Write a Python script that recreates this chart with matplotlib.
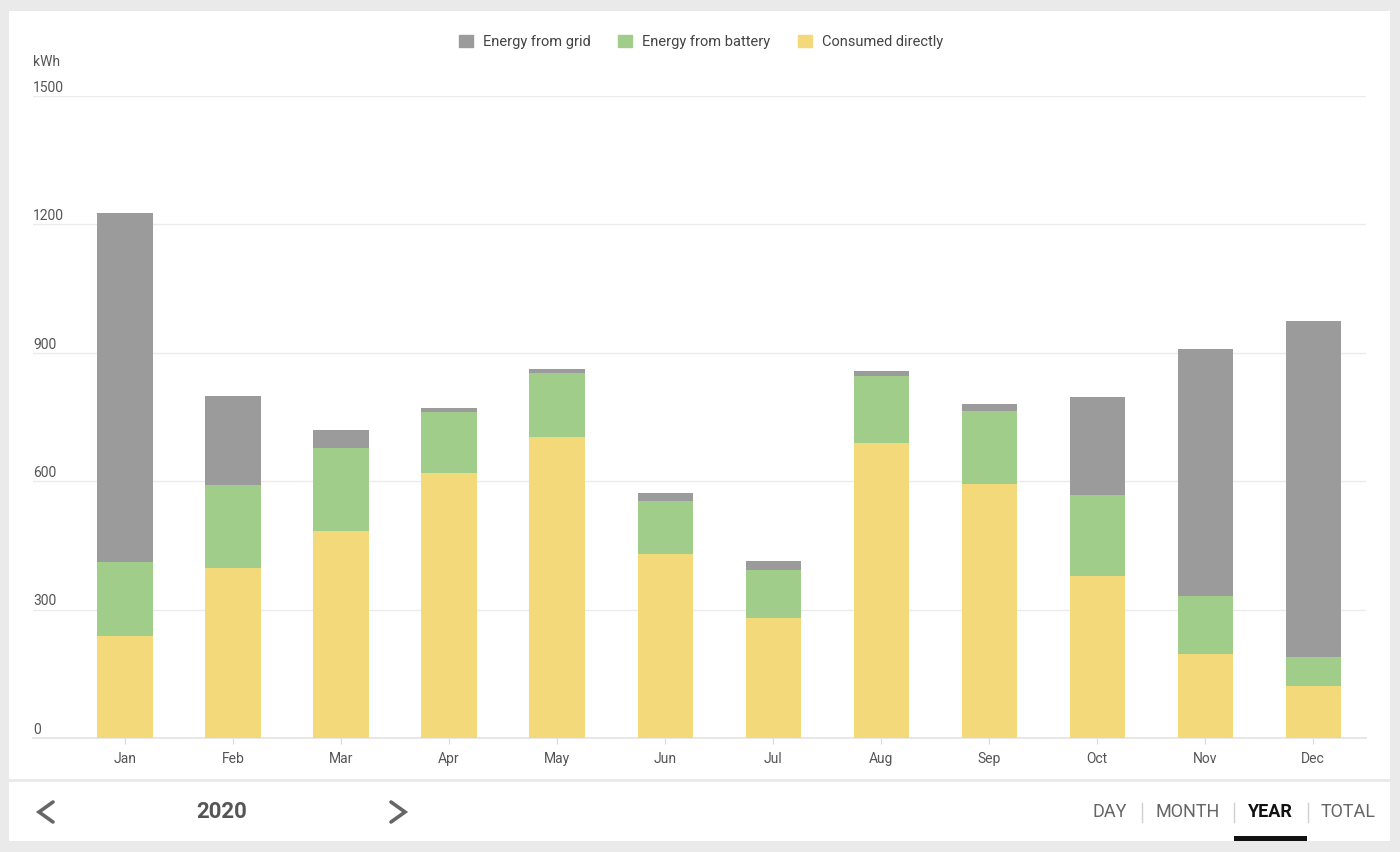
import matplotlib
matplotlib.use('Agg')
import matplotlib.pyplot as plt
import matplotlib.patches as mpatches
import matplotlib.transforms as mtransforms
from matplotlib.lines import Line2D
import numpy as np

plt.rcParams['font.family'] = ['Roboto', 'DejaVu Sans']

# data (kWh per month, 2020)
months = ['Jan', 'Feb', 'Mar', 'Apr', 'May', 'Jun', 'Jul', 'Aug', 'Sep', 'Oct', 'Nov', 'Dec']
consumed = [238, 397, 484, 619, 703, 430, 280, 689, 593, 379, 196, 121]
battery = [173, 194, 194, 143, 150, 124, 113, 157, 171, 189, 136, 68]
grid = [816, 208, 42, 9, 9, 18, 21, 11, 16, 229, 577, 785]
yticks = [0, 300, 600, 900, 1200, 1500]
year = '2020'
periods = ['DAY', 'MONTH', 'YEAR', 'TOTAL']

c_grid = '#9b9b9b'
c_batt = '#a0cd89'
c_cons = '#f3d97a'
bg = '#e9eae9'

W, H = 1400, 852
fig = plt.figure(figsize=[W / 100, H / 100], dpi=100, facecolor=bg)

def fx(px):
  return px / W

def fy(py):
  return 1 - py / H

# white cards
fig.patches.append(mpatches.Rectangle((fx(9), fy(779)), fx(1390) - fx(9), fy(11) - fy(779),
                                      transform=fig.transFigure, facecolor='white', edgecolor='none', zorder=-10))
fig.patches.append(mpatches.Rectangle((fx(9), fy(841)), fx(1390) - fx(9), fy(782) - fy(841),
                                      transform=fig.transFigure, facecolor='white', edgecolor='none', zorder=-10))

ax = fig.add_axes([fx(33), fy(738), fx(1366) - fx(33), fy(96) - fy(738)])
ax.set_facecolor('none')

x = np.arange(len(months))
w = 0.51
cons = np.array(consumed)
batt = np.array(battery)
ax.bar(x, consumed, w, color=c_cons, zorder=3)
ax.bar(x, battery, w, bottom=cons, color=c_batt, zorder=3)
ax.bar(x, grid, w, bottom=cons + batt, color=c_grid, zorder=3)

ax.set_xlim(-0.852, 11.49)
ax.set_ylim(0, 1500)

for s in ['top', 'right', 'left']:
  ax.spines[s].set_visible(False)
ax.spines['bottom'].set_color('#e3e3e3')
ax.spines['bottom'].set_linewidth(1.2)

ax.set_yticks(yticks)
ax.set_yticklabels([])
ax.tick_params(axis='y', length=0)
ax.yaxis.grid(True, color='#ebebeb', linewidth=1, zorder=0)

ax.set_xticks(x)
ax.set_xticklabels(months, fontsize=10, color='#555555')
ax.tick_params(axis='x', length=4, color='#d8d8d8', pad=6)

trans = mtransforms.blended_transform_factory(ax.transAxes, ax.transData)
for v in yticks:
  ax.annotate(str(v), xy=(0, v), xycoords=trans, xytext=(0, 3), textcoords='offset points',
              ha='left', va='baseline', fontsize=10, color='#555555')

fig.text(fx(33), fy(66), 'kWh', ha='left', va='baseline', fontsize=10, color='#555555')

handles = [mpatches.Patch(color=c_grid, label='Energy from grid'),
           mpatches.Patch(color=c_batt, label='Energy from battery'),
           mpatches.Patch(color=c_cons, label='Consumed directly')]
fig.legend(handles=handles, loc='center', bbox_to_anchor=(fx(701), fy(42)), ncol=3, frameon=False,
           fontsize=10.5, handlelength=0.95, handleheight=0.95, handletextpad=0.7, columnspacing=1.9,
           labelcolor='#444444')

# bottom navigation
fig.text(fx(222), fy(812), year, ha='center', va='center', fontsize=16, fontweight='bold', color='#555555')
fig.lines.append(Line2D([fx(53), fx(39), fx(53)], [fy(802), fy(812), fy(822)], transform=fig.transFigure,
                        color='#666666', linewidth=2.6, solid_capstyle='round', solid_joinstyle='miter'))
fig.lines.append(Line2D([fx(391), fx(405), fx(391)], [fy(802), fy(812), fy(822)], transform=fig.transFigure,
                        color='#666666', linewidth=2.6, solid_capstyle='round', solid_joinstyle='miter'))

centers = [1110, 1188, 1270, 1348]
for p, c in zip(periods, centers):
  if p == 'YEAR':
    fig.text(fx(c), fy(812), p, ha='center', va='center', fontsize=13, fontweight='bold', color='#111111')
  else:
    fig.text(fx(c), fy(812), p, ha='center', va='center', fontsize=13, color='#666666')
for sx in [1142, 1234, 1308]:
  fig.lines.append(Line2D([fx(sx), fx(sx)], [fy(803), fy(822)], transform=fig.transFigure,
                          color='#d0d0d0', linewidth=1))
fig.patches.append(mpatches.Rectangle((fx(1234), fy(841)), fx(1307) - fx(1234), fy(836) - fy(841),
                                      transform=fig.transFigure, facecolor='#111111', edgecolor='none'))

plt.savefig('out.png', dpi=100, facecolor=bg)
